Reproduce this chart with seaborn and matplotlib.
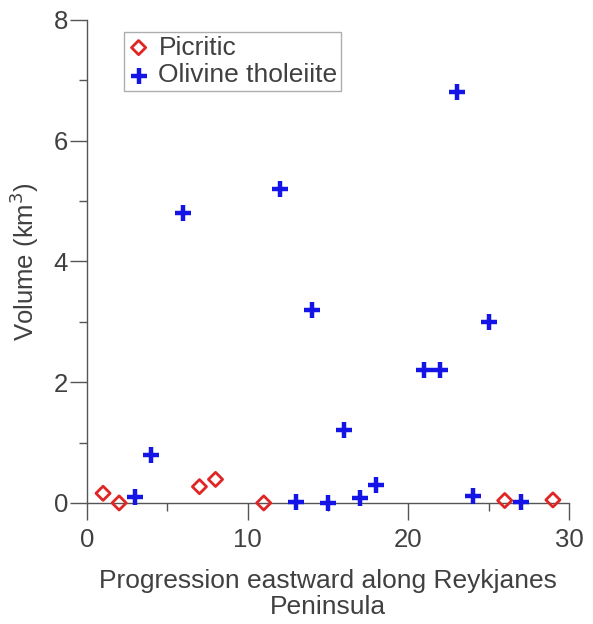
import matplotlib
matplotlib.use("Agg")
import matplotlib.pyplot as plt
import seaborn as sns
from matplotlib.ticker import MultipleLocator

# Data
picritic_x = [1, 2, 7, 8, 11, 26, 29]
picritic_y = [0.16, 0.0, 0.27, 0.39, 0.0, 0.04, 0.05]
olivine_x = [3, 4, 6, 12, 13, 14, 15, 16, 17, 18, 21, 22, 23, 24, 25, 27]
olivine_y = [0.1, 0.8, 4.8, 5.2, 0.02, 3.2, 0.0, 1.2, 0.08, 0.3, 2.2, 2.2, 6.8, 0.11, 3.0, 0.01]
x_ticks = [0, 10, 20, 30]
y_ticks = [0, 2, 4, 6, 8]

sns.set_style("ticks")
plt.rcParams['font.family'] = ['Liberation Sans', 'DejaVu Sans']
TXT = '#404040'

fig = plt.figure(figsize=(5.93, 6.24), dpi=100)
ax = fig.add_axes([0.1467, 0.194, 0.8128, 0.774])

sns.scatterplot(x=picritic_x, y=picritic_y, ax=ax, marker='D', s=52,
                facecolor='none', edgecolor='#e02525', linewidth=2.0,
                label='Picritic', clip_on=False, zorder=3)
sns.scatterplot(x=olivine_x, y=olivine_y, ax=ax, marker='+', s=130,
                color='#1414e6', linewidth=3.2,
                label='Olivine tholeiite', clip_on=False, zorder=3)

ax.set_xlim(0, 30)
ax.set_ylim(0, 8)
ax.set_xticks(x_ticks)
ax.set_yticks(y_ticks)
ax.xaxis.set_minor_locator(MultipleLocator(5))
ax.yaxis.set_minor_locator(MultipleLocator(1))
sns.despine(ax=ax)
for s in ['left', 'bottom']:
    ax.spines[s].set_color('#555555')
    ax.spines[s].set_linewidth(1.0)
ax.tick_params(which='major', length=12, width=1.0, color='#555555',
               labelsize=18.5, labelcolor=TXT, direction='out')
ax.tick_params(axis='x', which='major', pad=6)
ax.tick_params(axis='y', which='major', pad=1.5)
ax.tick_params(which='minor', length=6, width=1.0, color='#555555', direction='out')

ax.set_xlabel('Progression eastward along Reykjanes\nPeninsula', fontsize=19,
              color=TXT, labelpad=12, linespacing=1.15)
ax.set_ylabel('Volume (km$^3$)', fontsize=18.5, color=TXT, labelpad=9)

leg = ax.legend(loc='upper left', bbox_to_anchor=(0.077, 0.976), fontsize=19,
                frameon=True, fancybox=False, borderpad=0.15, labelspacing=0.15,
                handlelength=0.8, handletextpad=0.35, borderaxespad=0)
leg.get_frame().set_edgecolor('#999999')
leg.get_frame().set_linewidth(1.0)
for t in leg.get_texts():
    t.set_color(TXT)

fig.savefig('out.png', dpi=100)
